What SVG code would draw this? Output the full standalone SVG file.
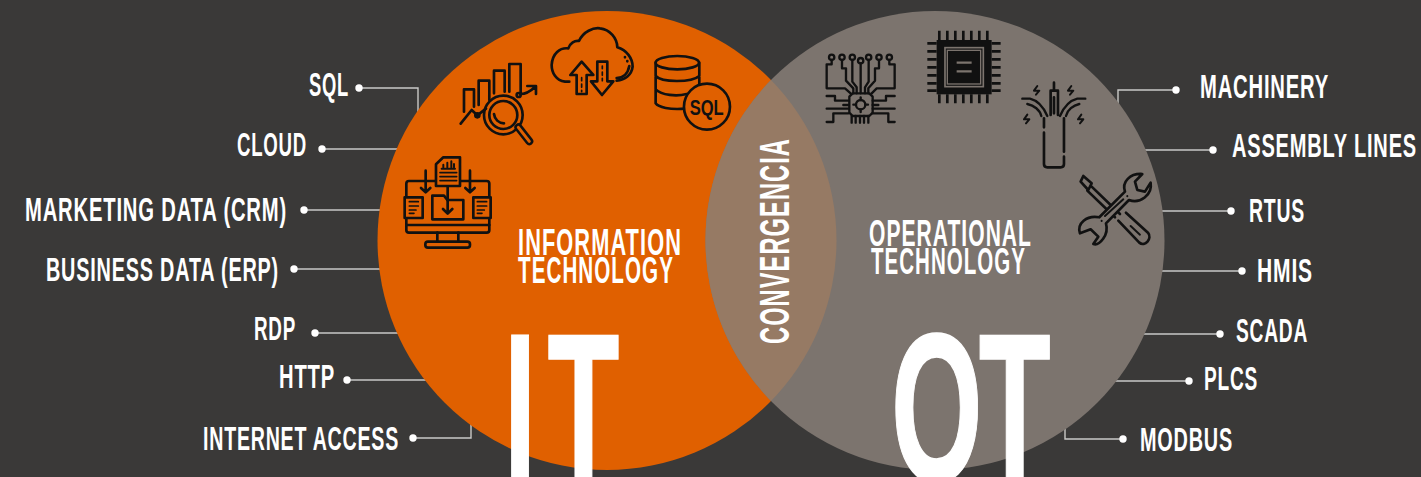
<svg xmlns="http://www.w3.org/2000/svg" width="1421" height="477" viewBox="0 0 1421 477">
<style>
.t{font-family:"Liberation Sans Narrow","Liberation Sans",Arial,sans-serif;font-weight:700;fill:#fff}
.l{font-size:33px;letter-spacing:.04em}
.h{font-size:37px;letter-spacing:.05em}
.c{fill:none;stroke:#c9c9c7;stroke-width:1.4}
.d{fill:#fff}
.i{fill:none;stroke:#111;stroke-width:8;stroke-linecap:round;stroke-linejoin:round}
.o{fill:#e06000}
.g{fill:#7c746e}
</style>
<defs>
<clipPath id="lc"><circle cx="607" cy="240.5" r="229.5"/></clipPath>
</defs>
<rect width="1421" height="477" fill="#3a3938"/>
<g id="connectors">
<path class="c" d="M359 88H418V112"/><path class="c" d="M322 149H400"/><path class="c" d="M304 210H382"/><path class="c" d="M294 269H382"/><path class="c" d="M315 333H400"/><path class="c" d="M347 380H428"/><path class="c" d="M413 438H471V424"/>
<path class="c" d="M1176 90H1118V104"/><path class="c" d="M1213 150H1143"/><path class="c" d="M1231 211H1160"/><path class="c" d="M1242 271H1160"/><path class="c" d="M1220 334H1142"/><path class="c" d="M1189 381H1114"/><path class="c" d="M1123 439H1065V426"/>
<g class="d"><circle cx="359" cy="88" r="3.7"/><circle cx="322" cy="149" r="3.7"/><circle cx="304" cy="210" r="3.7"/><circle cx="294" cy="269" r="3.7"/><circle cx="315" cy="333" r="3.7"/><circle cx="347" cy="380" r="3.7"/><circle cx="413" cy="438" r="3.7"/><circle cx="1176" cy="90" r="3.7"/><circle cx="1213" cy="150" r="3.7"/><circle cx="1231" cy="211" r="3.7"/><circle cx="1242" cy="271" r="3.7"/><circle cx="1220" cy="334" r="3.7"/><circle cx="1189" cy="381" r="3.7"/><circle cx="1123" cy="439" r="3.7"/></g>
</g>
<g id="it-circle">
<circle cx="607" cy="240.5" r="229.5" fill="#e06000"/>
<text class="t h" x="518" y="255" textLength="164" lengthAdjust="spacingAndGlyphs">INFORMATION</text>
<text class="t h" x="518" y="283" textLength="156" lengthAdjust="spacingAndGlyphs">TECHNOLOGY</text>
</g>
<g id="ot-circle">
<circle cx="935" cy="240.5" r="229.5" fill="#7c746e"/>
<text class="t h" x="869" y="246" textLength="163" lengthAdjust="spacingAndGlyphs">OPERATIONAL</text>
<text class="t h" x="871" y="274" textLength="155" lengthAdjust="spacingAndGlyphs">TECHNOLOGY</text>
</g>
<g id="convergence">
<circle cx="935" cy="240.5" r="229.5" fill="#967a64" clip-path="url(#lc)"/>
<text class="t" font-size="43" letter-spacing="2" transform="translate(789 344) rotate(-90)" textLength="206" lengthAdjust="spacingAndGlyphs">CONVERGENCIA</text>
</g>
<g id="big-it"><text class="t" font-size="212" stroke="#fff" stroke-width="1.5" transform="translate(511 481) scale(.555 1)" x="-13 66">IT</text></g>
<g id="big-ot"><text class="t" font-size="212" stroke="#fff" stroke-width="1.5" transform="translate(895 481) scale(.555 1)" x="-7 151">OT</text></g>
<g id="labels-it">
<text class="t l" x="309" y="96" textLength="40" lengthAdjust="spacingAndGlyphs">SQL</text>
<text class="t l" x="237" y="156" textLength="70" lengthAdjust="spacingAndGlyphs">CLOUD</text>
<text class="t l" x="25" y="221" textLength="262" lengthAdjust="spacingAndGlyphs">MARKETING DATA (CRM)</text>
<text class="t l" x="46" y="281" textLength="233" lengthAdjust="spacingAndGlyphs">BUSINESS DATA (ERP)</text>
<text class="t l" x="254" y="340" textLength="42" lengthAdjust="spacingAndGlyphs">RDP</text>
<text class="t l" x="279" y="388" textLength="56" lengthAdjust="spacingAndGlyphs">HTTP</text>
<text class="t l" x="203" y="450" textLength="196" lengthAdjust="spacingAndGlyphs">INTERNET ACCESS</text>
</g>
<g id="labels-ot">
<text class="t l" x="1200" y="98" textLength="129" lengthAdjust="spacingAndGlyphs">MACHINERY</text>
<text class="t l" x="1232" y="157" textLength="185" lengthAdjust="spacingAndGlyphs">ASSEMBLY LINES</text>
<text class="t l" x="1249" y="222" textLength="56" lengthAdjust="spacingAndGlyphs">RTUS</text>
<text class="t l" x="1257" y="282" textLength="56" lengthAdjust="spacingAndGlyphs">HMIS</text>
<text class="t l" x="1236" y="342" textLength="72" lengthAdjust="spacingAndGlyphs">SCADA</text>
<text class="t l" x="1204" y="390" textLength="54" lengthAdjust="spacingAndGlyphs">PLCS</text>
<text class="t l" x="1140" y="451" textLength="93" lengthAdjust="spacingAndGlyphs">MODBUS</text>
</g>
<g id="icons-it" transform="translate(390 10) scale(.3333)">
<g id="icon-chart" class="i">
<path d="M222 305V238H252V290M266 285V212H298V270M312 250V182H344V245M358 245V162H392V250"/>
<path d="M212 341L245 300L262 316L288 296"/>
<circle cx="262" cy="316" r="6"/>
<circle cx="386" cy="255" r="6"/>
<path d="M392 252Q412 252 436 230M412 228H438V252"/>
<circle cx="340" cy="315" r="58"/><circle cx="340" cy="315" r="42"/>
<path d="M312 312C314 328 326 340 342 340"/>
<path d="M385 352L418 394" stroke-width="24"/><path d="M385 352L418 394" stroke="#e06000" stroke-width="9"/>
</g>
<g id="icon-cloud" class="i">
<path d="M538 215H525C498 212 485 188 485 165C487 130 510 112 535 115C540 100 555 90 567 93C580 65 610 52 630 55C660 58 682 85 682 112C710 120 728 145 728 170C725 195 705 210 680 212"/>
<path d="M680 204C700 204 714 190 718 168M705 141V142M712 153V154"/>
<path class="o" d="M575 155L541 195H560V252H590V195H610Z"/>
<path d="M575 203V212M575 222V232M575 241V245" stroke-width="5"/>
<path class="o" d="M622 155H652V214H670L636 255L603 214H622Z"/>
<path d="M637 168V176M637 186V196M637 205V212" stroke-width="5"/>
</g>
<g id="icon-db" class="i">
<ellipse cx="862" cy="158" rx="65" ry="20"/>
<path d="M797 158V280C805 292 840 300 885 296M928 158V225M797 198C815 218 905 218 928 198M797 238C815 256 860 260 890 252"/>
<circle class="o" cx="951" cy="290" r="69"/>
<text x="899" y="315" font-size="64" font-family="'Liberation Sans Narrow','Liberation Sans',sans-serif" font-weight="700" fill="#111" stroke="none" textLength="102" lengthAdjust="spacingAndGlyphs">SQL</text>
</g>
<g id="icon-monitor" class="i">
<rect x="49" y="513" width="249" height="155" rx="8"/>
<path d="M49 645H298M142 668V695M205 668V695"/>
<rect x="106" y="695" width="134" height="18" rx="8"/>
<path class="o" d="M160 442H210V528H138V463Z"/>
<path d="M155 476H195M160 472V464M172 472V458M184 472V454M192 472V462" stroke-width="6"/>
<path d="M150 488H200M150 500H200M150 512H200" stroke-width="5"/>
<path d="M107 482V546M93 534L107 547L121 534M240 482V546M226 534L240 547L254 534M173 530V610M159 597L173 611L187 597"/>
<path d="M127 628V557H162L172 570H220V628Z"/>
<path class="o" d="M44 562H98V624H44Z"/><path d="M58 575H85M58 588H85M58 600H78M58 610H72" stroke-width="5"/>
<path class="o" d="M250 562H302V624H250Z"/><path d="M262 575H290M262 588H290M262 600H283M262 610H276" stroke-width="5"/>
</g>
</g>
<g id="icons-ot" transform="translate(810 10) scale(.3333)">
<g id="icon-circuit" class="i" style="stroke-width:7">
<circle cx="65" cy="142" r="8"/><circle cx="96" cy="142" r="8"/><circle cx="127" cy="142" r="8"/><circle cx="152" cy="152" r="8"/><circle cx="176" cy="142" r="8"/><circle cx="207" cy="142" r="8"/><circle cx="238" cy="142" r="8"/>
<path d="M65 150V163H50V235H105L122 250M96 150V175H108V212L130 235V250M127 150V215L140 232V250M152 160V250M176 150V215L165 232V250M207 150V175H195V212L175 235V250M238 150V163H254V235H200L185 250"/>
<path d="M128 250H178L188 260V308L178 318H128L118 308V260Z"/>
<circle cx="152" cy="284" r="14"/><path d="M152 262V270M152 298V306M130 284H138M166 284H174"/>
<path d="M125 318V338M137 318V338M150 318V338M162 318V338M175 318V338"/>
<path d="M50 258H75V272H115M100 285H115M50 296H115M50 336H70V310H115M188 272H228V258H254M188 285H205M188 296H254M188 310H235V336H254"/>
</g>
<g id="icon-chip">
<path d="M388 62V90M412 62V90M436 62V90M460 62V90M484 62V90M508 62V90M532 62V90M388 253V280M412 253V280M436 253V280M460 253V280M484 253V280M508 253V280M532 253V280M352 100H380M352 124H380M352 148H380M352 172H380M352 196H380M352 220H380M352 242H380M545 100H572M545 124H572M545 148H572M545 172H572M545 196H572M545 220H572M545 242H572" stroke="#111" stroke-width="8" fill="none"/>
<rect x="380" y="90" width="165" height="163" fill="#111"/>
<rect x="405" y="113" width="115" height="117" fill="none" stroke="#7c746e" stroke-width="5"/>
<rect x="412" y="121" width="100" height="101" fill="none" stroke="#7c746e" stroke-width="4"/>
<path d="M440 158H485M440 184H485" stroke="#7c746e" stroke-width="7"/>
</g>
<g id="icon-cable" class="i">
<path d="M702 325V352M702 368V462Q702 472 712 472H752Q762 472 762 462V440M762 425V325"/>
<path d="M732 218V240M722 315V242H744V315M732 262V310"/>
<path d="M712 318C700 290 685 272 660 266H637M694 318C690 300 672 286 652 282M750 318C762 290 778 272 802 266H826M768 318C772 300 790 286 808 282" stroke-width="7"/>
<path d="M682 228L672 242H688L678 254M784 228L774 242H790L780 254M652 314L642 328H658L648 340M814 314L804 328H820L810 340" stroke-width="6"/>
</g>
<g id="icon-tools" class="i">
<path d="M820 498L845 520L835 540L812 515Z"/>
<path d="M845 530L930 612M832 542L915 622"/>
<path d="M948 608L1014 668C1028 685 1005 712 988 698L925 632"/>
<path d="M962 648L990 674" stroke-width="6"/>
<path fill="#7c746e" d="M945 545C935 515 960 490 997 492L975 515L982 540L1005 545L1022 518C1028 555 990 582 957 570L888 640C898 675 868 708 850 702L865 680L842 658L810 670C800 640 830 615 868 622Z"/>
<path d="M952 558V559M875 632V633M885 618L940 568" stroke-width="6"/>
</g>
</g>
</svg>
